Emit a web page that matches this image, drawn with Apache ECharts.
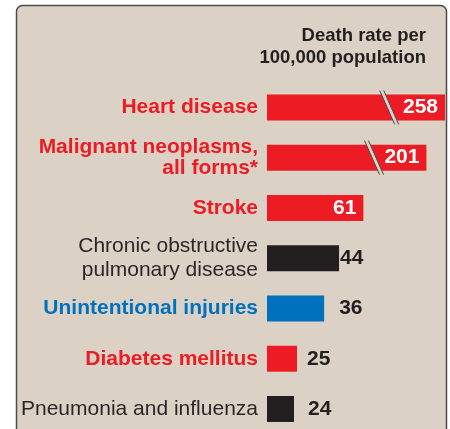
<!DOCTYPE html>
<html>
<head>
<meta charset="utf-8">
<style>
  html, body { margin: 0; padding: 0; background: #ffffff; }
  #chart { width: 450px; height: 429px; }
</style>
<script src="https://cdn.jsdelivr.net/npm/echarts@6/dist/echarts.min.js"></script>
</head>
<body>
<div id="chart"></div>
<script>
// Leading causes of death, rate per 100,000 population
const categories = [
  'Heart disease',
  'Malignant neoplasms,\nall forms*',
  'Stroke',
  'Chronic obstructive\npulmonary disease',
  'Unintentional injuries',
  'Diabetes mellitus',
  'Pneumonia and influenza'
];
const deathRates = [258, 201, 61, 44, 36, 25, 24];
const headerLines = ['Death rate per', '100,000 population'];

// value range skipped by the broken bars
const skippedRange = [65, 132];

// colour group of each cause: red, blue or dark
const colourGroup = ['red', 'red', 'red', 'dark', 'blue', 'red', 'dark'];

const RED = '#ed1c24';
const BLUE = '#0071bc';
const DARK = '#231f20';
const PANEL = '#dcd1c5';
const FONT = '"Liberation Sans", Arial, Helvetica, sans-serif';

const barFill = { red: RED, blue: BLUE, dark: DARK };
// distance from bar end to value label (outside labels)
const outsideGap = { 3: 1, 4: 15, 5: 10, 6: 14 };

const chart = echarts.init(document.getElementById('chart'), null, { renderer: 'canvas' });

const barData = deathRates.map((v, i) => {
  const inside = v > 50;
  return {
    value: v,
    itemStyle: { color: barFill[colourGroup[i]] },
    label: inside
      ? { position: 'insideRight', distance: 7, color: '#ffffff' }
      : { position: 'right', distance: outsideGap[i], color: DARK }
  };
});

const brokenBars = deathRates
  .map((v, i) => [i, v])
  .filter(d => d[1] > skippedRange[1]);

// where inside the gap each slash sits (fraction of gap width)
const slashPlace = [0.78, 0.22];

function axisLabelText(value, index) {
  const style = colourGroup[index];
  return value.split('\n').map(line => '{' + style + '|' + line + '}').join('\n');
}

const richBase = { fontFamily: FONT, fontSize: 21, align: 'right' };

const option = {
  animation: false,
  backgroundColor: '#ffffff',
  graphic: [
    {
      type: 'rect',
      z: -10,
      silent: true,
      shape: { x: 16.5, y: 5.5, width: 430, height: 460, r: 6 },
      style: { fill: PANEL, stroke: '#4b4b4b', lineWidth: 1.5 }
    },
    {
      type: 'text',
      silent: true,
      x: 426,
      y: 25,
      style: {
        text: headerLines.join('\n'),
        align: 'right',
        verticalAlign: 'top',
        font: 'bold 18.5px ' + FONT,
        lineHeight: 22,
        fill: DARK
      }
    }
  ],
  grid: { left: 267, right: 5, top: 82.3, height: 351.8, outerBoundsMode: 'none' },
  xAxis: {
    type: 'log',
    min: 16.7,
    max: 258,
    breaks: [{ start: skippedRange[0], end: skippedRange[1], gap: '15.2%' }],
    breakArea: { show: false },
    axisLine: { show: false },
    axisTick: { show: false },
    axisLabel: { show: false },
    splitLine: { show: false }
  },
  yAxis: {
    type: 'category',
    inverse: true,
    data: categories,
    axisLine: { show: false },
    axisTick: { show: false },
    axisLabel: {
      margin: 9,
      formatter: axisLabelText,
      rich: {
        red: Object.assign({ color: RED, fontWeight: 'bold', lineHeight: 21 }, richBase),
        blue: Object.assign({ color: BLUE, fontWeight: 'bold', lineHeight: 24 }, richBase),
        dark: Object.assign({ color: '#2b2728', fontWeight: 'normal', lineHeight: 24 }, richBase)
      }
    }
  },
  series: [
    {
      type: 'bar',
      barWidth: 26,
      clip: true,
      data: barData,
      label: {
        show: true,
        fontFamily: FONT,
        fontSize: 21,
        fontWeight: 'bold'
      }
    },
    {
      // slash marks on the broken bars
      type: 'custom',
      silent: true,
      z: 5,
      data: brokenBars,
      encode: { x: 1, y: 0 },
      renderItem: function (params, api) {
        const idx = api.value(0);
        const a = api.coord([skippedRange[0], idx]);
        const b = api.coord([skippedRange[1], idx]);
        const f = slashPlace[params.dataIndex] ?? 0.5;
        const cx = a[0] + (b[0] - a[0]) * f;
        const cy = a[1];
        const half = 17;      // half height of slash
        const lean = 7.5;     // horizontal lean from centre to top/bottom
        const w = 4;          // space between the two strokes
        const tl = [cx - lean - w / 2, cy - half];
        const tr = [cx - lean + w / 2, cy - half];
        const br = [cx + lean + w / 2, cy + half];
        const bl = [cx + lean - w / 2, cy + half];
        return {
          type: 'group',
          children: [
            { type: 'polygon', shape: { points: [tl, tr, br, bl] }, style: { fill: PANEL } },
            { type: 'line', shape: { x1: tl[0], y1: tl[1], x2: bl[0], y2: bl[1] }, style: { stroke: '#4a4a4a', lineWidth: 1 } },
            { type: 'line', shape: { x1: tr[0], y1: tr[1], x2: br[0], y2: br[1] }, style: { stroke: '#4a4a4a', lineWidth: 1 } }
          ]
        };
      }
    }
  ]
};

chart.setOption(option);
</script>
</body>
</html>
